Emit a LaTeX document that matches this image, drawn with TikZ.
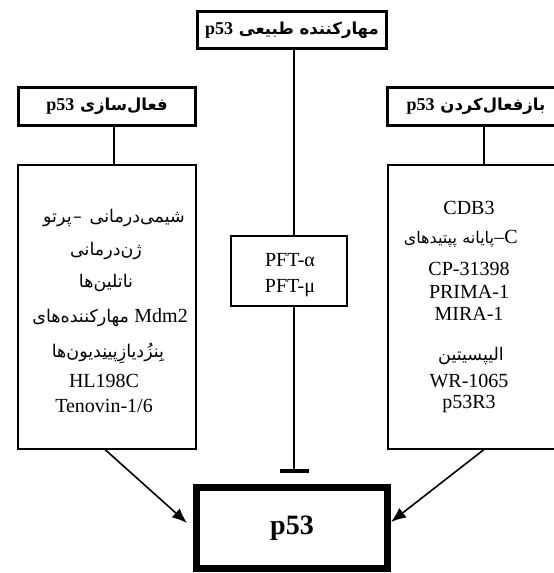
\documentclass[tikz,border=0pt]{standalone}
\usepackage{fontspec}
\setmainfont{Liberation Serif}
\newfontfamily\fa[Script=Arabic]{DejaVu Sans}
\TeXXeTstate=1
\usetikzlibrary{arrows.meta}
\newcommand\pfa{\fa\fontsize{17.5}{19}\selectfont}
\newcommand\pfas{\fa\fontsize{16}{18}\selectfont}
\newcommand\pfab{\fa\bfseries\fontsize{16.5}{18}\selectfont}
\begin{document}
\begin{tikzpicture}[x=1pt,y=-1pt,
  hdr/.style={draw, line width=3.3pt, inner sep=0pt, font=\fontsize{18}{20}\selectfont\bfseries},
  bodybox/.style={draw, line width=2pt, inner sep=0pt},
  txt/.style={anchor=base, inner sep=0pt, font=\fontsize{20}{22}\selectfont},
  conn/.style={line width=1.6pt},
  arr/.style={conn, -{Latex[length=15pt,width=12pt]}},
  inh/.style={conn, -{Bar[width=29pt,line width=3.8pt]}}]
\useasboundingbox (0,0) rectangle (554,573);
\clip (0,0) rectangle (554,573);
% header boxes
\node[hdr, minimum width=189pt, minimum height=37pt] (top) at (292,30)
  {\pfab\beginR مهارکننده طبیعی \beginL{\rmfamily\fontsize{18}{20}\selectfont p53}\endL\endR};
\node[hdr, minimum width=177pt, minimum height=38pt] (hl) at (107,106.5)
  {\pfab\beginR فعال^^^^200cسازی \beginL{\rmfamily\fontsize{18}{20}\selectfont p53}\endL\endR};
\node[hdr, minimum width=177pt, minimum height=38pt] (hr) at (476,106.5)
  {\pfab\beginR بازفعال^^^^200cکردن \beginL{\rmfamily\fontsize{18}{20}\selectfont p53}\endL\endR};
% body boxes
\node[bodybox, minimum width=178pt, minimum height=284pt] (bl) at (107,306.5) {};
\node[bodybox, minimum width=172pt, minimum height=284pt] (br) at (474,306.5) {};
\node[bodybox, minimum width=116pt, minimum height=70pt] (pft) at (289,271) {};
% p53 box
\node[draw, line width=7pt, minimum width=191pt, minimum height=81pt, inner sep=0pt,
  font=\fontsize{28}{30}\selectfont\bfseries] (p53) at (292,528) {p53};
% left box text (words placed left to right as printed)
\node[txt, anchor=base west] (l1a) at (43,222) {\pfa پرتو};
\node[txt, anchor=base west] (l1d) at ([xshift=1pt]l1a.base east) {\pfa –};
\node[txt, anchor=base east] (l1b) at (185,222) {\pfa شیمی^^^^200cدرمانی};
\node[txt] (l2) at (106,255) {\pfa ژن^^^^200cدرمانی};
\node[txt] (l3) at (106,287) {\pfa ناتلین^^^^200cها};
\node[txt, anchor=base east] (l4b) at (188,322) {Mdm2};
\node[txt, anchor=base east] (l4a) at ([xshift=-5pt]l4b.base west) {\pfa مهارکننده^^^^200cهای};
\node[txt] (l5) at (108,357) {\pfa بِنزُدیازِپینِدیون^^^^200cها};
\node[txt] (l6) at (104,387) {HL198C};
\node[txt] (l7) at (104,412) {Tenovin-1/6};
% right box text
\node[txt] (r1) at (469,214) {CDB3};
\node[txt, anchor=base east] (r2c) at (518,243) {–C};
\node[txt, anchor=base east] (r2b) at (r2c.base west) {\pfas پایانه};
\node[txt, anchor=base east] (r2a) at ([xshift=-5pt]r2b.base west) {\pfas پپتیدهای};
\node[txt] (r3) at (469,275) {CP-31398};
\node[txt] (r4) at (469,298) {PRIMA-1};
\node[txt] (r5) at (469,320) {MIRA-1};
\node[txt] (r6) at (471,360) {\pfa الیپسیتین};
\node[txt] (r7) at (469,387) {WR-1065};
\node[txt] (r8) at (469,408) {p53R3};
% PFT text
\node[txt] (p1) at (290,266) {PFT-α};
\node[txt] (p2) at (290,292) {PFT-μ};
% connectors
\coordinate (tbar) at (294,473);
\draw[conn] ([xshift=2pt]top.south) -- ([xshift=5pt]pft.north);
\draw[inh] ([xshift=5pt]pft.south) -- (tbar);
\draw[conn] ([xshift=7pt]hl.south) -- ([xshift=7pt]hl.south |- bl.north);
\draw[conn] ([xshift=8pt]hr.south) -- ([xshift=8pt]hr.south |- br.north);
\draw[arr] ([xshift=-2pt]bl.south) -- ([xshift=-6pt,yshift=5pt]p53.west);
\draw[arr] ([xshift=10pt]br.south) -- ([yshift=6pt]p53.east);
\end{tikzpicture}
\end{document}
